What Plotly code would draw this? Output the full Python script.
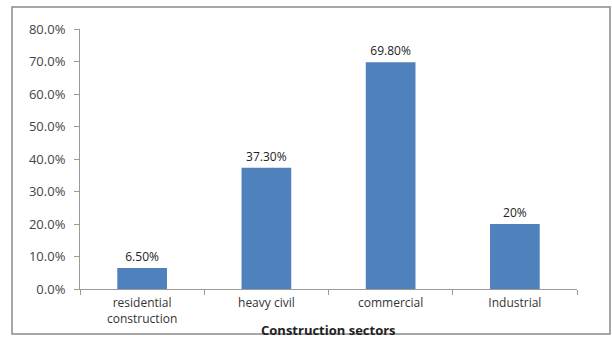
import plotly.graph_objects as go

categories = ["residential<br>construction", "heavy civil", "commercial", "Industrial"]
values = [6.5, 37.3, 69.8, 20]
labels = ["6.50%", "37.30%", "69.80%", "20%"]
tick_vals = [0, 10, 20, 30, 40, 50, 60, 70, 80]
tick_text = ["0.0%", "10.0%", "20.0%", "30.0%", "40.0%", "50.0%", "60.0%", "70.0%", "80.0%"]

W, H = 612, 338
L, R, T, B = 80, 35, 29, 49
pw, ph = W - L - R, H - T - B

fig = go.Figure(go.Bar(
    x=categories, y=values, text=labels, textposition="outside",
    marker=dict(color="#4F81BD", line=dict(width=0)),
    textfont=dict(family="Open Sans", size=12, color="#222"),
    width=0.4, cliponaxis=False,
))

def px_x(x):
    return (x - L) / pw

def px_y(y):
    return (H - B - y) / ph

fig.update_layout(
    width=W, height=H,
    margin=dict(l=L, r=R, t=T, b=B, autoexpand=False),
    paper_bgcolor="white", plot_bgcolor="white",
    showlegend=False,
    font=dict(family="Open Sans", size=12, color="#333"),
    xaxis=dict(
        automargin=False,
        showline=True, linecolor="#9a9a9a", linewidth=1,
        ticks="outside", tickson="boundaries", ticklen=5, tickcolor="#9a9a9a",
        tickfont=dict(size=12, color="#333"), ticklabelstandoff=3,
    ),
    yaxis=dict(
        automargin=False,
        range=[0, 80], tickvals=tick_vals, ticktext=tick_text,
        showline=True, linecolor="#9a9a9a", linewidth=1,
        ticks="outside", ticklen=5, tickcolor="#9a9a9a",
        showgrid=False, zeroline=False,
        tickfont=dict(size=13, color="#444"), ticklabelstandoff=6,
    ),
    annotations=[dict(
        text="<b>Construction sectors</b>", xref="paper", yref="paper",
        x=0.5, y=px_y(330), xanchor="center", yanchor="middle", showarrow=False,
        font=dict(size=13, color="#222"),
    )],
    shapes=[dict(
        type="rect", xref="paper", yref="paper",
        x0=px_x(12), x1=px_x(610), y0=px_y(334), y1=px_y(7),
        line=dict(color="#8a8a8a", width=1.5), fillcolor="rgba(0,0,0,0)", layer="below",
    )],
)

fig.write_html("out.html")
